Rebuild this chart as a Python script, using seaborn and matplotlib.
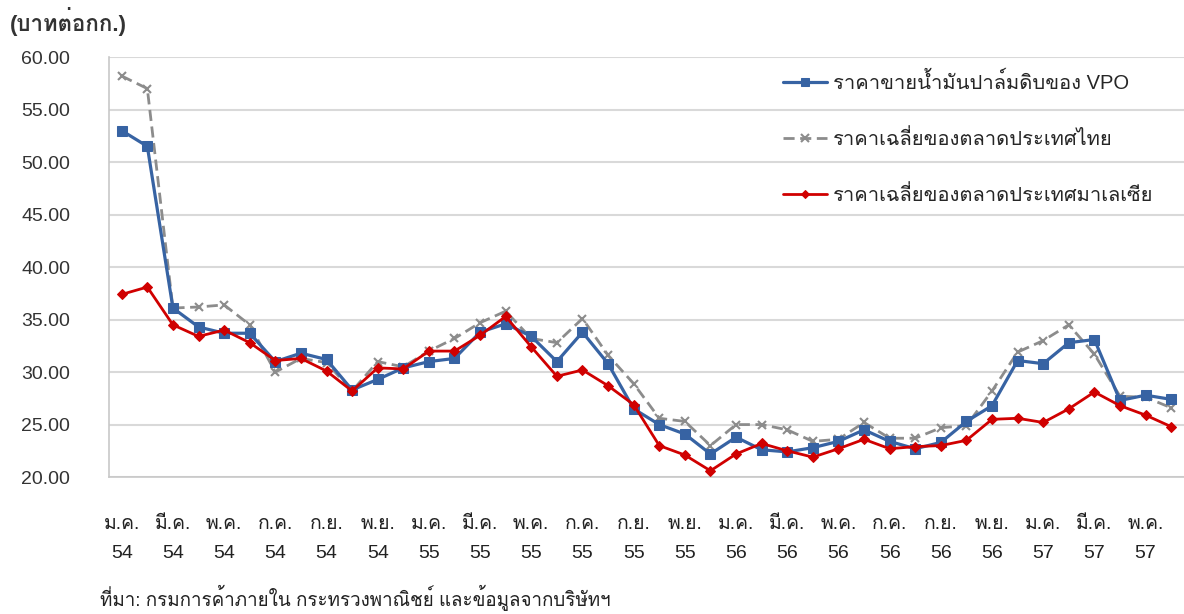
import pandas as pd
import seaborn as sns
import matplotlib.pyplot as plt
import numpy as np
from matplotlib import font_manager as fm
from matplotlib.ft2font import FT2Font

# monthly prices Jan 2554 - Jun 2557 (baht per kg)
vpo = [53.0, 51.5, 36.1, 34.3, 33.7, 33.7, 31.0, 31.8, 31.2, 28.3,
       29.3, 30.4, 31.0, 31.3, 33.8, 34.6, 33.4, 31.0, 33.8, 30.8,
       26.5, 25.0, 24.1, 22.2, 23.8, 22.6, 22.4, 22.8, 23.4, 24.5,
       23.4, 22.7, 23.3, 25.3, 26.8, 31.1, 30.8, 32.8, 33.1, 27.3,
       27.8, 27.4]
thai_avg = [58.2, 57.0, 36.1, 36.2, 36.4, 34.5, 30.0, 31.3, 30.9, 28.2,
            31.0, 30.5, 32.0, 33.2, 34.7, 35.8, 33.2, 32.8, 35.1, 31.6,
            28.9, 25.6, 25.3, 23.0, 25.0, 25.0, 24.5, 23.4, 23.6, 25.2,
            23.7, 23.7, 24.7, 24.9, 28.2, 31.9, 33.0, 34.5, 31.7, 27.7,
            27.6, 26.6]
malay_avg = [37.4, 38.1, 34.5, 33.4, 34.0, 32.8, 31.1, 31.3, 30.1, 28.2,
             30.4, 30.3, 32.0, 32.0, 33.5, 35.3, 32.4, 29.6, 30.2, 28.7,
             26.9, 23.0, 22.1, 20.6, 22.2, 23.2, 22.5, 21.9, 22.7, 23.6,
             22.7, 22.9, 23.0, 23.5, 25.5, 25.6, 25.2, 26.5, 28.1, 26.8,
             25.9, 24.8]

month_labels = ["ม.ค.", "มี.ค.", "พ.ค.", "ก.ค.", "ก.ย.", "พ.ย.",
                "ม.ค.", "มี.ค.", "พ.ค.", "ก.ค.", "ก.ย.", "พ.ย.",
                "ม.ค.", "มี.ค.", "พ.ค.", "ก.ค.", "ก.ย.", "พ.ย.",
                "ม.ค.", "มี.ค.", "พ.ค."]
year_labels = ["54", "54", "54", "54", "54", "54",
               "55", "55", "55", "55", "55", "55",
               "56", "56", "56", "56", "56", "56",
               "57", "57", "57"]

series_names = ["ราคาขายน้ำมันปาล์มดิบของ VPO",
                "ราคาเฉลี่ยของตลาดประเทศไทย",
                "ราคาเฉลี่ยของตลาดประเทศมาเลเซีย"]


def find_thai_font():
    # look for any installed font that has Thai glyphs
    for f in fm.fontManager.ttflist:
        try:
            if 0x0E01 in FT2Font(f.fname).get_charmap():
                return f.name
        except Exception:
            pass
    return 'DejaVu Sans'


sns.set_style('white')
thai_font = find_thai_font()
plt.rcParams['font.family'] = ['Liberation Sans', thai_font, 'DejaVu Sans']

df = pd.DataFrame({'idx': np.arange(len(vpo)), 'vpo': vpo,
                   'thai': thai_avg, 'malay': malay_avg})

fig, ax = plt.subplots(figsize=(11.84, 6.14), dpi=100)
fig.subplots_adjust(left=0.092, right=1.0, top=0.907, bottom=0.223)

sns.lineplot(data=df, x='idx', y='thai', ax=ax, color='#8c8c8c', linestyle=(0, (4, 2)),
             linewidth=2.0, marker='x', markersize=6, markeredgewidth=1.5,
             markeredgecolor='#8c8c8c', label=series_names[1], zorder=3)
sns.lineplot(data=df, x='idx', y='vpo', ax=ax, color='#3763a3', linewidth=2.3,
             marker='s', markersize=7, markeredgecolor='#3763a3',
             label=series_names[0], zorder=4)
sns.lineplot(data=df, x='idx', y='malay', ax=ax, color='#d00000', linewidth=2.0,
             marker='D', markersize=5, markeredgecolor='#d00000',
             label=series_names[2], zorder=5)

ax.set_xlim(-0.5, len(vpo) - 0.5)
ax.set_ylim(20, 60)
ax.set_yticks(np.arange(20, 61, 5))
ax.set_yticklabels([f"{v:.2f}" for v in np.arange(20, 61, 5)], fontsize=14, color='#333333')
ax.yaxis.grid(True, color='#d9d9d9', linewidth=1.5)
ax.tick_params(axis='y', length=10, width=1.2, color='#c8c8c8', pad=18)

# labels on every other month, tick marks between categories
ax.set_xticks(np.arange(0, len(vpo), 2))
ax.set_xticklabels([m + "\n" + y for m, y in zip(month_labels, year_labels)],
                   fontsize=14, color='#222222', linespacing=1.95)
ax.set_xticks(np.arange(-0.5, len(vpo), 2), minor=True)
ax.tick_params(axis='x', which='major', length=0, pad=28)
ax.tick_params(axis='x', which='minor', length=8, width=1.2, color='#c8c8c8')
ax.set_xlabel('')
ax.set_ylabel('')

for s in ['top', 'right']:
    ax.spines[s].set_visible(False)
for s in ['left', 'bottom']:
    ax.spines[s].set_color('#c8c8c8')
    ax.spines[s].set_linewidth(1.2)

# legend order as in the picture
handles, labels = ax.get_legend_handles_labels()
order = [labels.index(n) for n in series_names]
ax.legend([handles[i] for i in order], [labels[i] for i in order],
          loc='upper left', bbox_to_anchor=(773 / 1184, 1 - 62 / 614),
          bbox_transform=fig.transFigure, frameon=False, fontsize=14.5,
          handlelength=2.2, handletextpad=0.3, labelspacing=1.8,
          borderpad=0, numpoints=1, markerscale=0.9)

fig.text(10 / 1184, 1 - 21 / 614, "(บาทต่อกก.)", fontsize=16, fontweight='bold',
         color='#333333', va='center', ha='left')
fig.text(100 / 1184, 1 - 598 / 614, "ที่มา: กรมการค้าภายใน กระทรวงพาณิชย์ และข้อมูลจากบริษัทฯ",
         fontsize=13.5, color='#222222', va='center', ha='left')

fig.savefig('out.png', dpi=100)
